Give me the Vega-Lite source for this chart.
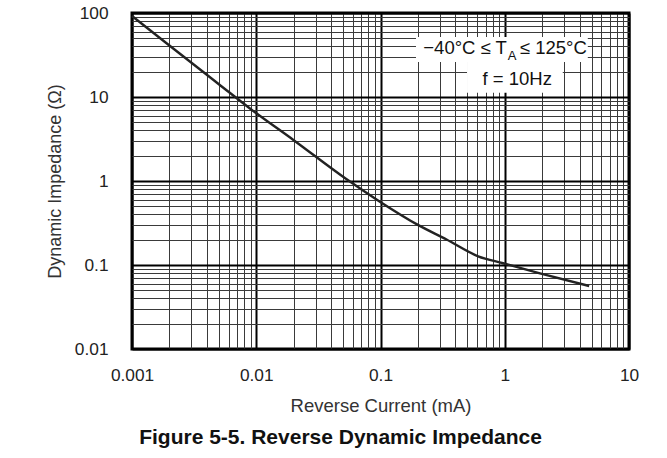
{
  "$schema": "https://vega.github.io/schema/vega-lite/v6.json",
  "autosize": "none",
  "width": 497,
  "height": 336,
  "padding": {"left": 132, "top": 13, "right": 38, "bottom": 109},
  "background": "white",
  "config": {
    "font": "Liberation Sans",
    "view": {"stroke": "black", "strokeWidth": 3}
  },
  "title": {
    "text": "Figure 5-5. Reverse Dynamic Impedance",
    "orient": "bottom",
    "anchor": "middle",
    "dx": -40,
    "offset": 12,
    "fontSize": 21,
    "fontWeight": "bold",
    "font": "Liberation Sans",
    "color": "#111"
  },
  "datasets": {
    "curve": [
      {"current": 0.001, "impedance": 92},
      {"current": 0.002, "impedance": 41},
      {"current": 0.005, "impedance": 14.2},
      {"current": 0.0089, "impedance": 7.3},
      {"current": 0.0199, "impedance": 3.08},
      {"current": 0.0534, "impedance": 1.047},
      {"current": 0.0989, "impedance": 0.567},
      {"current": 0.2, "impedance": 0.3},
      {"current": 0.34, "impedance": 0.201},
      {"current": 0.611, "impedance": 0.127},
      {"current": 0.97, "impedance": 0.105},
      {"current": 1.92, "impedance": 0.0796},
      {"current": 4.78, "impedance": 0.0562}
    ],
    "boxes": [
      {"current": 0.193, "current2": 4.66, "impedance": 51.8, "impedance2": 26.1},
      {"current": 0.497, "current2": 2.93, "impedance": 26.1, "impedance2": 11.2}
    ],
    "labels": [
      {"current": 1.04, "impedance": 32.2, "text": "−40°C ≤ T", "part": "main"},
      {"current": 1.323, "impedance": 32.2, "text": "≤ 125°C", "part": "after"},
      {"current": 1.26, "impedance": 13.9, "text": "f = 10Hz", "part": "center"},
      {"current": 1.055, "impedance": 27.6, "text": "A", "part": "sub"}
    ]
  },
  "layer": [
    {
      "data": {"name": "curve"},
      "mark": {"type": "line", "color": "#222", "strokeWidth": 2.4, "interpolate": "monotone"},
      "encoding": {
        "x": {
          "field": "current",
          "type": "quantitative",
          "scale": {"type": "log", "domain": [0.001, 10], "nice": false},
          "axis": {
            "title": "Reverse Current (mA)",
            "values": [0.001,0.002,0.003,0.004,0.005,0.006,0.007,0.008,0.009,0.01,0.02,0.03,0.04,0.05,0.06,0.07,0.08,0.09,0.1,0.2,0.3,0.4,0.5,0.6,0.7,0.8,0.9,1,2,3,4,5,6,7,8,9,10],
            "labelExpr": "indexof([0.001,0.01,0.1,1,10], datum.value) >= 0 ? format(datum.value, '~g') : ''",
            "labelFontSize": 17.3,
            "labelColor": "#222",
            "labelPadding": 17,
            "labelFlush": false,
            "labelOverlap": false,
            "ticks": false,
            "domain": false,
            "grid": true,
            "gridColor": {"condition": {"test": "indexof([0.001,0.01,0.1,1,10], datum.value) >= 0", "value": "#000"}, "value": "#3a3a3a"},
            "gridWidth": {"condition": {"test": "indexof([0.001,0.01,0.1,1,10], datum.value) >= 0", "value": 2}, "value": 1},
            "gridOpacity": 1,
            "titleFontSize": 18.5,
            "titleFontWeight": "normal",
            "titleColor": "#333",
            "titlePadding": 13
          }
        },
        "y": {
          "field": "impedance",
          "type": "quantitative",
          "scale": {"type": "log", "domain": [0.01, 100], "nice": false},
          "axis": {
            "title": "Dynamic Impedance (Ω)",
            "values": [0.01,0.02,0.03,0.04,0.05,0.06,0.07,0.08,0.09,0.1,0.2,0.3,0.4,0.5,0.6,0.7,0.8,0.9,1,2,3,4,5,6,7,8,9,10,20,30,40,50,60,70,80,90,100],
            "labelExpr": "indexof([0.01,0.1,1,10,100], datum.value) >= 0 ? format(datum.value, '~g') : ''",
            "labelFontSize": 17.3,
            "labelColor": "#222",
            "labelPadding": 24,
            "labelFlush": false,
            "labelOverlap": false,
            "ticks": false,
            "domain": false,
            "grid": true,
            "gridColor": {"condition": {"test": "indexof([0.01,0.1,1,10,100], datum.value) >= 0", "value": "#000"}, "value": "#3a3a3a"},
            "gridWidth": {"condition": {"test": "indexof([0.01,0.1,1,10,100], datum.value) >= 0", "value": 2}, "value": 1},
            "gridOpacity": 1,
            "titleFontSize": 18,
            "titleFontWeight": "normal",
            "titleColor": "#333",
            "titlePadding": 10
          }
        }
      }
    },
    {
      "data": {"name": "boxes"},
      "mark": {"type": "rect", "color": "white"},
      "encoding": {
        "x": {"field": "current", "type": "quantitative"},
        "x2": {"field": "current2"},
        "y": {"field": "impedance", "type": "quantitative"},
        "y2": {"field": "impedance2"}
      }
    },
    {
      "data": {"name": "labels"},
      "transform": [{"filter": "datum.part == 'main'"}],
      "mark": {"type": "text", "fontSize": 18.5, "color": "#111", "baseline": "alphabetic", "align": "right"},
      "encoding": {
        "x": {"field": "current", "type": "quantitative"},
        "y": {"field": "impedance", "type": "quantitative"},
        "text": {"field": "text"}
      }
    },
    {
      "data": {"name": "labels"},
      "transform": [{"filter": "datum.part == 'after'"}],
      "mark": {"type": "text", "fontSize": 18.5, "color": "#111", "baseline": "alphabetic", "align": "left"},
      "encoding": {
        "x": {"field": "current", "type": "quantitative"},
        "y": {"field": "impedance", "type": "quantitative"},
        "text": {"field": "text"}
      }
    },
    {
      "data": {"name": "labels"},
      "transform": [{"filter": "datum.part == 'center'"}],
      "mark": {"type": "text", "fontSize": 18.5, "color": "#111", "baseline": "alphabetic", "align": "center"},
      "encoding": {
        "x": {"field": "current", "type": "quantitative"},
        "y": {"field": "impedance", "type": "quantitative"},
        "text": {"field": "text"}
      }
    },
    {
      "data": {"name": "labels"},
      "transform": [{"filter": "datum.part == 'sub'"}],
      "mark": {"type": "text", "fontSize": 13, "color": "#111", "baseline": "alphabetic", "align": "left"},
      "encoding": {
        "x": {"field": "current", "type": "quantitative"},
        "y": {"field": "impedance", "type": "quantitative"},
        "text": {"field": "text"}
      }
    }
  ]
}
